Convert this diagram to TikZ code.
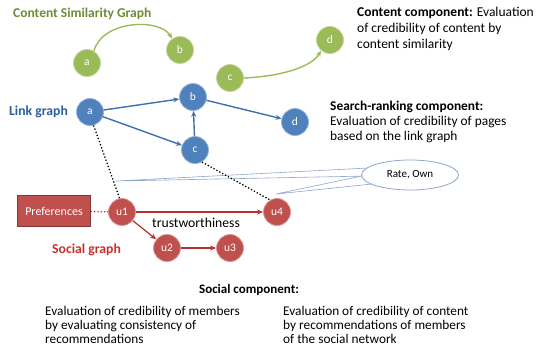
\documentclass[tikz,border=0pt]{standalone}
\usepackage{fontspec}
\setmainfont{Carlito}
\usetikzlibrary{arrows.meta,shapes.geometric}
\definecolor{gfill}{HTML}{9BBB59}
\definecolor{gtext}{HTML}{6E8B35}
\definecolor{bfill}{HTML}{4F81BD}
\definecolor{bline}{HTML}{3E70B0}
\definecolor{btext}{HTML}{2D5EA5}
\definecolor{rfill}{HTML}{C0504D}
\definecolor{rline}{HTML}{B8312F}
\definecolor{rtext}{HTML}{C8302C}
\definecolor{cline}{HTML}{8FA6CF}
\tikzset{
  circ/.style={circle, minimum size=27pt, inner sep=0pt, text=white, line width=0.8pt,
    font=\fontsize{11.5}{13}\selectfont},
  gnode/.style={circ, fill=gfill, draw=gfill!60!white},
  bnode/.style={circ, fill=bfill, draw=bfill!60!white},
  rnode/.style={circ, fill=rfill, draw=rfill!60!white},
  garrow/.style={draw=gfill, line width=1.4pt, -{Stealth[length=6pt,width=5pt]}},
  barrow/.style={draw=bline, line width=1.4pt, -{Stealth[length=6pt,width=5pt]}},
  rarrow/.style={draw=rline, line width=1.2pt, -{Stealth[length=6pt,width=5pt]}},
  dotline/.style={black, line width=1.3pt, dotted},
  title/.style={font=\fontsize{13.7}{16}\selectfont\bfseries, anchor=west, inner sep=0pt},
  para/.style={anchor=north west, align=left, inner sep=0pt, font=\fontsize{13.3}{14}\selectfont},
  wedge/.style={fill=white, draw=cline, line width=0.6pt},
}
\begin{document}
\begin{tikzpicture}[x=1pt,y=-1pt]
\useasboundingbox (0,0) rectangle (536,349);

% titles
\node[title, text=gtext, font=\fontsize{13.5}{16}\selectfont\bfseries] (tcs) at (13,14) {Content Similarity Graph};
\node[title, text=btext] (tlg) at (9,112) {Link graph};
\node[title, text=rtext] (tsg) at (52,250) {Social graph};

% content similarity graph
\node[gnode] (ga) at (87,63) {a};
\node[gnode] (gb) at (180,50) {b};
\node[gnode] (gc) at (230,78) {c};
\node[gnode] (gd) at (330,40) {d};
\draw[garrow] (ga.60) .. controls (102,20) and (160,18) .. (gb.125);
\draw[garrow] (gc.east) .. controls (285,76) and (312,66) .. (gd.230);

% callout (Rate, Own)
\coordinate (tip1) at (116,181);
\coordinate (tip2) at (276,194);
\draw[wedge] (368,168) -- (tip1) -- (368,176) -- cycle;
\draw[wedge] (362,176) -- (tip2) -- (372,184) -- cycle;
\node[ellipse, draw=cline, fill=white, line width=0.8pt, minimum width=97pt, minimum height=30pt,
  inner sep=0pt, font=\fontsize{11}{13}\selectfont] (ro) at (410,175) {Rate, Own};

% link graph
\node[bnode] (ba) at (90,112) {a};
\node[bnode] (bb) at (193,97) {b};
\node[bnode] (bc) at (195,150) {c};
\node[bnode] (bd) at (295,122) {d};
\draw[barrow] (ba) -- (bb);
\draw[barrow] (ba) -- (bc);
\draw[barrow] (bc) -- (bb);
\draw[barrow] (bb) -- (bd);

% social graph
\node[rnode] (u1) at (122,212) {u1};
\node[rnode] (u4) at (277,212) {u4};
\node[rnode] (u2) at (167,248) {u2};
\node[rnode] (u3) at (230,248) {u3};
\node[fill=rfill, draw=rfill!70!black, line width=0.5pt, minimum width=73pt, minimum height=31pt,
  inner sep=0pt, text=white, font=\fontsize{12}{14}\selectfont] (pref) at (54,211) {Preferences};
\draw[rarrow] (u1) -- (u4);
\draw[rarrow] (u1) -- (u2);
\draw[rarrow] (u2) -- (u3);
\draw[rline, line width=1.3pt, dotted] (pref) -- (u1);
\node[anchor=west, inner sep=0pt, font=\fontsize{13.7}{16}\selectfont] (tw) at (152,223) {trustworthiness};

% dotted cross links
\draw[dotline] (ba.-75) -- (u1.100);
\draw[dotline] (bc.-60) -- (u4.120);

% descriptions
\node[para, font=\fontsize{13.5}{16}\selectfont] (cc) at (357,6.5)
  {\textbf{Content component:} Evaluation\\of credibility of content by\\content similarity};
\node[para, font=\fontsize{13.4}{15}\selectfont] (sr) at (330,100.5)
  {\textbf{Search-ranking component:}\\Evaluation of credibility of pages\\based on the link graph};
\node[title, anchor=center, font=\fontsize{13}{15}\selectfont\bfseries] (sc) at (249,290) {Social component:};
\node[para] (sl) at (45,306.5)
  {Evaluation of credibility of members\\by evaluating consistency of\\recommendations};
\node[para] (sr2) at (283,306.5)
  {Evaluation of credibility of content\\by recommendations of members\\of the social network};
\end{tikzpicture}
\end{document}
